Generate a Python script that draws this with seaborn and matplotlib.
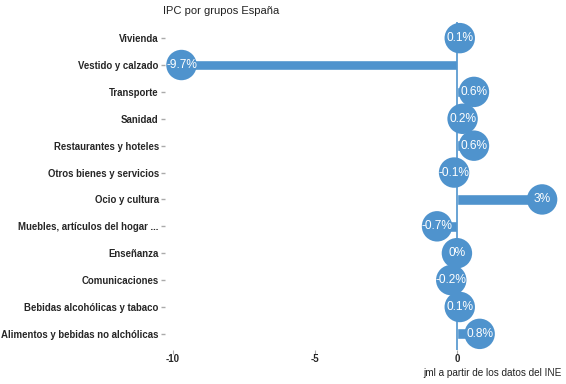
import matplotlib
matplotlib.use("Agg")
import matplotlib.pyplot as plt
import seaborn as sns
import pandas as pd

sns.set_theme(style="white")
plt.rcParams['font.family'] = ['Liberation Sans', 'DejaVu Sans']

grupos = ["Vivienda", "Vestido y calzado", "Transporte", "Sanidad",
          "Restaurantes y hoteles", "Otros bienes y servicios", "Ocio y cultura",
          "Muebles, artículos del hogar ...", "Enseñanza", "Comunicaciones",
          "Bebidas alcohólicas y tabaco", "Alimentos y bebidas no alchólicas"]
variacion = [0.1, -9.7, 0.6, 0.2, 0.6, -0.1, 3, -0.7, 0, -0.2, 0.1, 0.8]
etiquetas = ["0.1%", "-9.7%", "0.6%", "0.2%", "0.6%", "-0.1%", "3%", "-0.7%",
             "0%", "-0.2%", "0.1%", "0.8%"]

azul = "#4f93cd"
df = pd.DataFrame({"grupo": grupos, "valor": variacion, "label": etiquetas})

fig = plt.figure(figsize=(5.66, 3.84), dpi=100)
ax = fig.add_axes([165 / 566, 1 - 350 / 384, 395 / 566, 328 / 384])

sns.barplot(data=df, x="valor", y="grupo", orient="h", color=azul,
            width=0.4, saturation=1, ax=ax)
ax.axvline(0, color=azul, lw=1.2, zorder=1)
sns.scatterplot(data=df, x="valor", y="grupo", color=azul, s=480,
                edgecolor="none", ax=ax, zorder=3)
for i, row in df.iterrows():
    ax.text(row["valor"], i, row["label"], color="white", fontsize=8.6,
            ha="center", va="center", zorder=4)

ax.set_xlim(-10.28, 3.63)
ax.set_ylim(11.6, -0.6)
ax.set_xticks([-10, -5, 0])
ax.set_xticklabels(["-10", "-5", "0"], fontweight="bold", fontsize=7)
ax.set_yticklabels(grupos, fontweight="bold", fontsize=6.9)
ax.set_xlabel("")
ax.set_ylabel("")
for s in ax.spines.values():
    s.set_visible(False)
ax.tick_params(axis="y", left=True, length=3, width=1, color="#aaaaaa", pad=1.5)
ax.tick_params(axis="x", bottom=True, length=3, width=0.8, color="#aaaaaa", pad=0)

fig.text(163 / 566, 1 - 11 / 384, "IPC por grupos España", fontsize=8,
         ha="left", va="center", color="#222222")
fig.text(562 / 566, 1 - 373 / 384, "jml a partir de los datos del INE",
         fontsize=7.2, ha="right", va="center", color="#222222")

fig.savefig("out.png", dpi=100)
